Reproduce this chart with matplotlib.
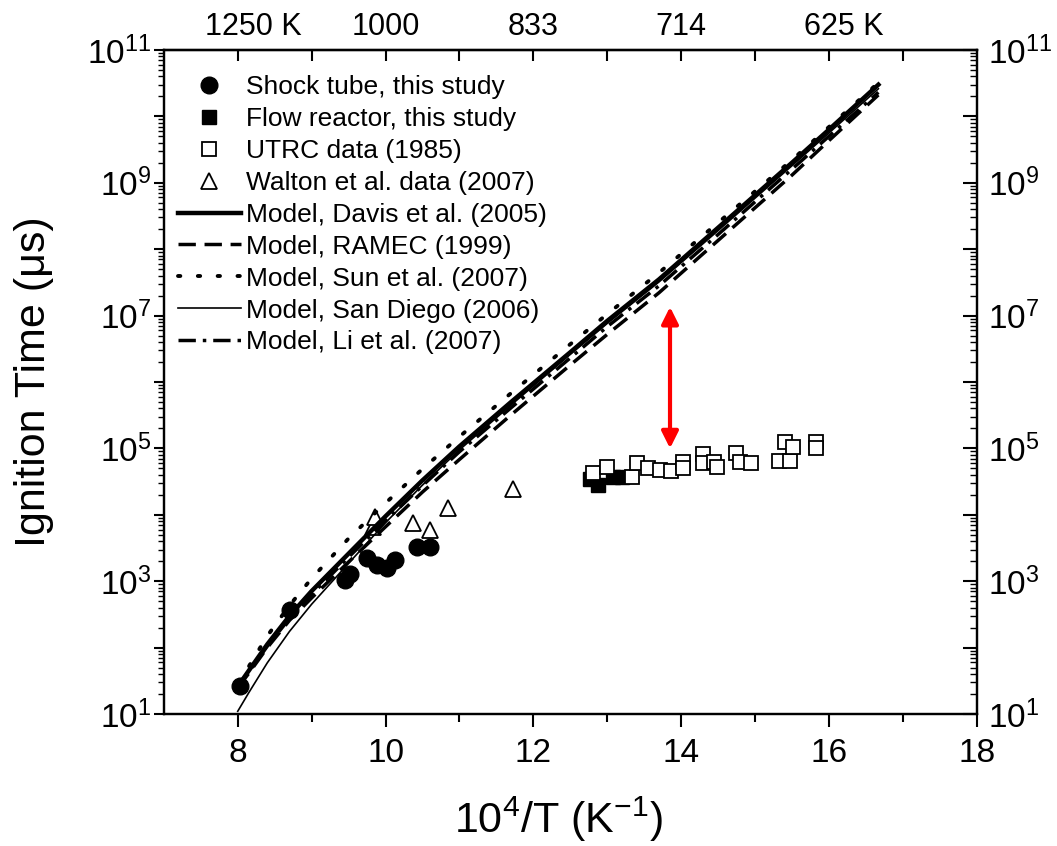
import numpy as np
import matplotlib
matplotlib.use("Agg")
import matplotlib.pyplot as plt
from matplotlib.ticker import LogLocator, FixedLocator, NullFormatter, FuncFormatter
import matplotlib.transforms as mtransforms

plt.rcParams['font.family'] = ['Liberation Sans', 'DejaVu Sans']
plt.rcParams['mathtext.fontset'] = 'custom'
plt.rcParams['mathtext.rm'] = 'Liberation Sans'
plt.rcParams['mathtext.it'] = 'Liberation Sans:italic'

# 数据: 横轴 10^4/T, 纵轴 点火时间 (us)
model_x = [8.0, 8.15, 8.4, 8.7, 9.0, 9.5, 10.0, 10.5, 11.0, 11.7, 12.5, 13.0, 13.7, 14.5, 15.5, 16.0, 16.67]
davis = [26, 45, 112, 300, 710, 2600, 9500, 3.3e4, 1.07e5, 5.0e5, 2.8e6, 8.3e6, 3.5e7, 2.1e8, 2.0e9, 6.3e9, 3.0e10]
ramec = [25, 41, 100, 257, 560, 1950, 6600, 2.2e4, 6.8e4, 3.2e5, 1.8e6, 5.2e6, 2.2e7, 1.35e8, 1.3e9, 4.3e9, 2.1e10]
sun = [30, 52, 150, 430, 1100, 4400, 1.5e4, 4.9e4, 1.5e5, 6.8e5, 3.7e6, 1.05e7, 4.4e7, 2.5e8, 2.2e9, 6.9e9, 3.2e10]
san_diego = [11, 21, 59, 175, 450, 1860, 7600, 2.8e4, 9.5e4, 4.5e5, 2.6e6, 7.6e6, 3.2e7, 1.9e8, 1.8e9, 5.6e9, 2.6e10]
li = [25, 43, 105, 275, 630, 2300, 8100, 2.75e4, 8.9e4, 4.1e5, 2.3e6, 6.8e6, 2.8e7, 1.66e8, 1.6e9, 5.0e9, 2.3e10]

shock_x = [8.03, 8.71, 9.45, 9.52, 9.75, 9.89, 10.02, 10.13, 10.43, 10.60]
shock_y = [26, 370, 1050, 1300, 2200, 1750, 1600, 2100, 3300, 3300]

flow_x = [12.77, 12.88, 13.08, 13.2]
flow_y = [3.5e4, 2.8e4, 3.7e4, 3.7e4]

utrc_x = [12.81, 13.0, 13.34, 13.40, 13.55, 13.71, 13.86, 14.02, 14.03, 14.29, 14.30,
          14.44, 14.49, 14.74, 14.80, 14.94, 15.32, 15.48, 15.41, 15.51, 15.82, 15.82]
utrc_y = [4.3e4, 5.2e4, 3.7e4, 6.0e4, 5.0e4, 4.7e4, 4.6e4, 6.3e4, 5.0e4, 8.3e4, 6.0e4,
          6.3e4, 5.2e4, 8.5e4, 6.3e4, 6.0e4, 6.5e4, 6.5e4, 1.26e5, 1.05e5, 1.26e5, 1.02e5]

walton_x = [9.83, 9.86, 10.37, 10.60, 10.85, 11.73]
walton_y = [6600, 9300, 7600, 5900, 1.26e4, 2.45e4]

arrow_x = 13.85
arrow_y = [1.0e5, 1.35e7]

top_ticks = [8, 10, 12, 14, 16]
top_labels = ["1250 K", "1000", "833", "714", "625 K"]

fig = plt.figure(figsize=(10.57, 8.46), dpi=100)
ax = fig.add_axes([0.155, 0.156, 0.769, 0.785])

ax.plot(shock_x, shock_y, 'o', color='black', ms=12, label="Shock tube, this study")
ax.plot(flow_x, flow_y, 's', color='black', ms=10, label="Flow reactor, this study")
ax.plot(utrc_x, utrc_y, 's', mfc='white', mec='black', mew=1.3, ms=10, label="UTRC data (1985)")
ax.plot(walton_x, walton_y, '^', mfc='white', mec='black', mew=1.3, ms=12, label="Walton et al. data (2007)")

ax.plot(model_x, davis, '-', color='black', lw=3.2, label="Model, Davis et al. (2005)")
ax.plot(model_x, ramec, color='black', lw=2.5, ls=(0, (5, 2.5)), label="Model, RAMEC (1999)")
ax.plot(model_x, sun, color='black', lw=2.8, ls=(0, (0.6, 4.5)), dash_capstyle='round', label="Model, Sun et al. (2007)")
ax.plot(model_x, san_diego, '-', color='black', lw=1.2, label="Model, San Diego (2006)")
ax.plot(model_x, li, color='black', lw=2.5, ls=(0, (5, 2, 1, 2)), label="Model, Li et al. (2007)")

ax.annotate("", xy=(arrow_x, arrow_y[0]), xytext=(arrow_x, arrow_y[1]),
            arrowprops=dict(arrowstyle='<|-|>', color='red', lw=3, mutation_scale=25, shrinkA=0, shrinkB=0))

ax.set_xlim(7, 18)
ax.set_yscale('log')
ax.set_ylim(10, 1e11)

ax.xaxis.set_major_locator(FixedLocator([8, 10, 12, 14, 16, 18]))
ax.xaxis.set_minor_locator(FixedLocator([9, 11, 13, 15, 17]))
ax.tick_params(axis='x', which='major', direction='out', length=9, width=1.5, labelsize=24, pad=8, top=False)
ax.tick_params(axis='x', which='minor', direction='out', length=5.5, width=1.5, top=False)

odd_fmt = FuncFormatter(lambda v, p: r"$10^{%d}$" % round(np.log10(v)) if round(np.log10(v)) % 2 == 1 else "")
ax.yaxis.set_major_locator(LogLocator(base=10, numticks=20))
ax.yaxis.set_minor_locator(LogLocator(base=10, subs=np.arange(2, 10), numticks=20))
ax.yaxis.set_major_formatter(odd_fmt)
ax.yaxis.set_minor_formatter(NullFormatter())
ax.tick_params(axis='y', which='major', direction='out', length=7, width=1.5, labelsize=24, pad=2, right=False)
ax.tick_params(axis='y', which='minor', direction='out', length=4, width=1.0, right=False)

ax2 = ax.twinx()
ax2.set_yscale('log')
ax2.set_ylim(10, 1e11)
ax2.yaxis.set_major_locator(LogLocator(base=10, numticks=20))
ax2.yaxis.set_minor_locator(LogLocator(base=10, subs=np.arange(2, 10), numticks=20))
ax2.yaxis.set_major_formatter(odd_fmt)
ax2.yaxis.set_minor_formatter(NullFormatter())
ax2.tick_params(axis='y', which='major', direction='in', length=10, width=1.5, labelsize=24, pad=8)
ax2.tick_params(axis='y', which='minor', direction='in', length=5, width=1.0)

sec = ax.secondary_xaxis('top')
sec.xaxis.set_major_locator(FixedLocator(top_ticks))
sec.xaxis.set_minor_locator(FixedLocator([9, 11, 13, 15, 17]))
sec.set_xticklabels(top_labels)
sec.tick_params(axis='x', which='both', direction='in', length=8, width=1.5, labelsize=22, pad=6)
for lab in sec.get_xticklabels():
    if lab.get_text().endswith("K"):
        shift = mtransforms.ScaledTranslation(11 / 72, 0, fig.dpi_scale_trans)
        lab.set_transform(lab.get_transform() + shift)

for a in (ax, ax2):
    for s in a.spines.values():
        s.set_linewidth(1.6)
sec.spines['top'].set_linewidth(1.6)

ax.set_xlabel(r"10$^{4}$/T (K$^{-1}$)", fontsize=31)
ax.xaxis.set_label_coords(0.485, -0.122)
ax.set_ylabel("Ignition Time (\u03bcs)", fontsize=31)
ax.yaxis.set_label_coords(-0.135, 0.5)

ax.legend(loc='upper left', bbox_to_anchor=(0.017, 0.962), frameon=False, fontsize=19,
          handlelength=2.4, handletextpad=0.2, labelspacing=0.3, borderpad=0, borderaxespad=0)

fig.savefig("out.png", dpi=100)
